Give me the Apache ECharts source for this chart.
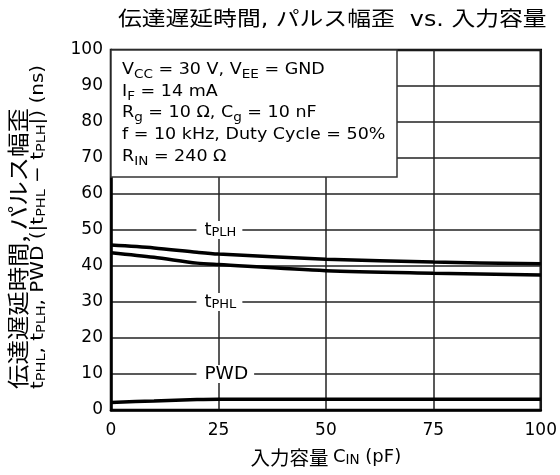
<!DOCTYPE html>
<html>
<head>
<meta charset="utf-8">
<script src="https://cdn.jsdelivr.net/npm/echarts@6/dist/echarts.min.js"></script>
<style>
html,body{margin:0;padding:0;background:#fff;}
#chart{width:560px;height:475px;}
</style>
</head>
<body>
<div id="chart"></div>
<script>
// ---- data ----
const capacitance = [0, 10, 20, 25, 50, 75, 100];
const tPLH = [45.8, 45.0, 43.8, 43.3, 41.9, 41.1, 40.6];
const tPHL = [43.7, 42.4, 40.8, 40.4, 38.7, 38.0, 37.5];
const pwd  = [2.1, 2.5, 2.9, 3.0, 3.0, 3.0, 3.0];
const curveLabelX = [25, 25, 25];
const curveLabelY = [50, 30, 10];
const curveLabelText = ['{n|t}{s|PLH}', '{n|t}{s|PHL}', '{p|PWD}'];
const xTicks = [0, 25, 50, 75, 100];
const yTicks = [0, 10, 20, 30, 40, 50, 60, 70, 80, 90, 100];
const titleText = '伝達遅延時間, パルス幅歪  vs. 入力容量';
const conditionLines = [
  '{n|V}{c|CC}{n| = 30 V, V}{c|EE}{n| = GND}',
  '{n|I}{s|F}{n| = 14 mA}',
  '{n|R}{s|g}{n| = 10 Ω, C}{s|g}{n| = 10 nF}',
  '{n|f = 10 kHz, Duty Cycle = 50%}',
  '{n|R}{s|IN}{n| = 240 Ω}'
];
const xName = '{c|入力容量 }{n|C}{s|IN}{n| (pF)}';
const yName = '{c|伝達遅延時間, パルス幅歪}\n{n|t}{s|PHL}{n|, t}{s|PLH}{n|, PWD (|t}{s|PHL}{n| − t}{s|PLH}{n||) (ns)}';

const LAT = "'DejaVu Sans', 'Noto Sans CJK JP', sans-serif";
const CJK = "'Noto Sans CJK JP', 'DejaVu Sans', sans-serif";

const chart = echarts.init(document.getElementById('chart'), null, {renderer: 'canvas'});

function lineSeries(name, ys) {
  return {
    name: name, type: 'line', smooth: 0.3, showSymbol: false, symbol: 'none',
    data: capacitance.map((x, i) => [x, ys[i]]),
    lineStyle: {color: '#000', width: 3.5},
    z: 3
  };
}

const option = {
  animation: false,
  backgroundColor: '#fff',
  grid: {
    left: 111, right: 18, top: 50, bottom: 65,
    show: true, borderColor: '#000', borderWidth: 2.5, backgroundColor: 'transparent'
  },
  graphic: [
    {
      type: 'text', z: 20, x: 118, y: 21, scaleX: 1.16,
      style: {text: titleText, fontFamily: LAT, fontSize: 20.5, fill: '#000', align: 'left', verticalAlign: 'middle'}
    },
    {
      type: 'rect', z: 10,
      shape: {x: 111, y: 50, width: 286, height: 127},
      style: {fill: '#fff', stroke: '#333', lineWidth: 1.5}
    },
    {
      type: 'text', z: 12, x: 122, y: 59, scaleX: 1.13,
      style: {
        text: conditionLines.join('\n'), align: 'left', verticalAlign: 'top',
        fontFamily: LAT, fontSize: 15.5, fill: '#000',
        rich: {
          n: {fontFamily: LAT, fontSize: 15.5, fill: '#000', lineHeight: 21.7},
          c: {fontFamily: LAT, fontSize: 12, fill: '#000', lineHeight: 14, verticalAlign: 'bottom'},
          s: {fontFamily: LAT, fontSize: 12, fill: '#000', lineHeight: 11, verticalAlign: 'bottom'}
        }
      }
    },
    {
      type: 'text', z: 20, x: 27, y: 389, rotation: Math.PI / 2, scaleX: 1.11,
      style: {
        text: yName, align: 'left', verticalAlign: 'middle',
        fontFamily: LAT, fontSize: 18, fill: '#000',
        rich: {
          c: {fontFamily: CJK, fontSize: 22, fill: '#000', lineHeight: 23},
          n: {fontFamily: LAT, fontSize: 18, fill: '#000', lineHeight: 19},
          s: {fontFamily: LAT, fontSize: 13, fill: '#000', lineHeight: 11, verticalAlign: 'bottom'}
        }
      }
    }
  ],
  xAxis: {
    type: 'value', min: xTicks[0], max: xTicks[xTicks.length - 1], interval: 25,
    name: xName, nameLocation: 'middle', nameGap: 38,
    nameTextStyle: {
      rich: {
        c: {fontFamily: CJK, fontSize: 19.5, color: '#000'},
        n: {fontFamily: LAT, fontSize: 18, color: '#000'},
        s: {fontFamily: LAT, fontSize: 13.5, color: '#000', lineHeight: 12, verticalAlign: 'bottom'}
      }
    },
    axisLine: {show: true, lineStyle: {color: '#000', width: 2.5}},
    axisTick: {show: false},
    axisLabel: {color: '#000', fontFamily: LAT, fontSize: 17, margin: 12},
    splitLine: {show: true, lineStyle: {color: '#222', width: 1.5}}
  },
  yAxis: {
    type: 'value', min: yTicks[0], max: yTicks[yTicks.length - 1], interval: 10,
    axisLine: {show: true, lineStyle: {color: '#000', width: 2.5}},
    axisTick: {show: false},
    axisLabel: {color: '#000', fontFamily: LAT, fontSize: 17, margin: 8},
    splitLine: {show: true, lineStyle: {color: '#222', width: 1.5}}
  },
  series: [
    lineSeries('tPLH', tPLH),
    lineSeries('tPHL', tPHL),
    lineSeries('PWD', pwd),
    {
      type: 'scatter', symbolSize: 1, itemStyle: {color: '#fff', opacity: 1}, z: 4,
      data: curveLabelX.map((x, i) => ({value: [x, curveLabelY[i]], label: {formatter: curveLabelText[i]}})),
      label: {
        show: true, position: 'inside', align: 'left', verticalAlign: 'middle',
        offset: [-22, 0], color: '#000', opacity: 1,
        backgroundColor: '#fff', padding: [0, 6, 0, 8],
        rich: {
          n: {fontFamily: LAT, fontSize: 18, color: '#000', lineHeight: 18},
          s: {fontFamily: LAT, fontSize: 13, color: '#000', lineHeight: 12, verticalAlign: 'bottom'},
          p: {fontFamily: LAT, fontSize: 18.5, color: '#000', lineHeight: 18}
        }
      },
      emphasis: {disabled: true},
      silent: true
    }
  ]
};
chart.setOption(option);
</script>
</body>
</html>
